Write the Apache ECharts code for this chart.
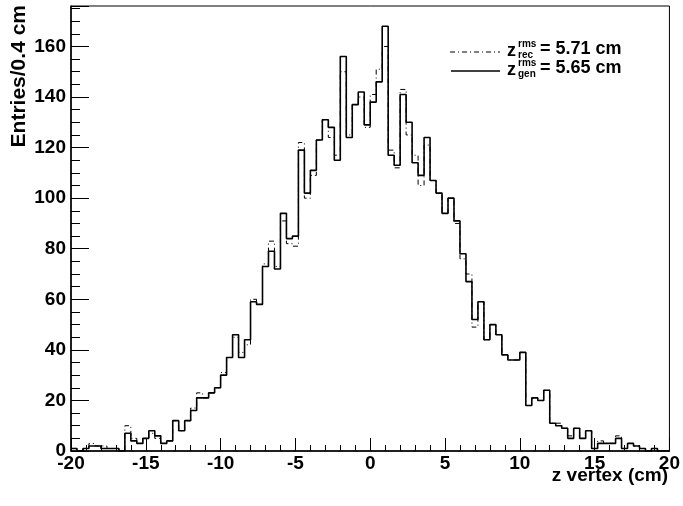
<!DOCTYPE html>
<html>
<head>
<meta charset="utf-8">
<script src="https://cdn.jsdelivr.net/npm/echarts@6/dist/echarts.min.js"></script>
<style>
  html, body { margin: 0; padding: 0; background: #fff; }
  #chart { width: 683px; height: 506px; }
</style>
</head>
<body>
<div id="chart"></div>
<script>
// histogram binning: 100 bins of 0.4 cm from -20 to 20
var zMin = -20;
var binWidth = 0.4;

// generated vertex (solid)
var genCounts = [
  1, 0, 1, 2, 2, 1, 1, 1, 0, 7,
  4, 3, 5, 8, 6, 3, 4, 12, 8, 12,
  16, 21, 21, 23, 25, 30, 37, 46, 37, 44,
  59, 58, 73, 79, 72, 94, 84, 85, 119, 102,
  111, 123, 131, 128, 115, 156, 124, 137, 142, 129,
  138, 146, 168, 117, 113, 141, 130, 114, 109, 124,
  107, 102, 94, 100, 91, 78, 67, 52, 59, 44,
  50, 46, 38, 36, 36, 39, 18, 21, 20, 24,
  11, 10, 9, 5, 9, 5, 8, 1, 3, 3,
  3, 5, 1, 3, 2, 1, 0, 1, 0, 0
];

// reconstructed vertex (dash-dot)
var recCounts = [
  1, 0, 1, 3, 2, 2, 1, 1, 0, 10,
  5, 3, 5, 7, 5, 3, 4, 12, 8, 12,
  17, 23, 21, 23, 25, 31, 37, 45, 39, 42,
  60, 58, 74, 83, 73, 91, 82, 81, 122, 100,
  109, 123, 131, 124, 117, 150, 125, 137, 140, 128,
  141, 151, 160, 119, 112, 143, 125, 117, 105, 121,
  107, 102, 94, 100, 90, 76, 70, 49, 59, 44,
  50, 46, 38, 36, 36, 39, 18, 21, 20, 24,
  11, 11, 9, 6, 9, 5, 8, 1, 4, 3,
  3, 6, 1, 3, 2, 1, 0, 1, 0, 0
];

var xTicks = [-20, -15, -10, -5, 0, 5, 10, 15, 20];
var yTicks = [0, 20, 40, 60, 80, 100, 120, 140, 160];

var legendRows = [
  { sub: 'rec', value: '= 5.71 cm' },
  { sub: 'gen', value: '= 5.65 cm' }
];

function toSteps(counts) {
  var pts = counts.map(function (c, i) {
    return [+(zMin + i * binWidth).toFixed(2), c];
  });
  pts.push([+(zMin + counts.length * binWidth).toFixed(2), counts[counts.length - 1]]);
  return pts;
}

var font = 'Liberation Sans, Arial, sans-serif';

function legendText(row, y) {
  return [
    { type: 'text', left: 507, top: y - 9, style: { text: 'z', font: 'bold 18px ' + font, fill: '#000' } },
    { type: 'text', left: 518, top: y - 12, style: { text: 'rms', font: 'bold 10px ' + font, fill: '#000' } },
    { type: 'text', left: 518, top: y - 1, style: { text: row.sub, font: 'bold 10px ' + font, fill: '#000' } },
    { type: 'text', left: 540, top: y - 11, style: { text: row.value, font: 'bold 18px ' + font, fill: '#000' } }
  ];
}

var chart = echarts.init(document.getElementById('chart'));
chart.setOption({
  animation: false,
  backgroundColor: '#fff',
  grid: {
    left: 71, right: 13, top: 6, bottom: 55,
    show: true, borderColor: '#000', borderWidth: 1
  },
  xAxis: {
    type: 'value',
    min: xTicks[0],
    max: xTicks[xTicks.length - 1],
    interval: 5,
    axisLine: { onZero: false, lineStyle: { color: '#000', width: 1.5 } },
    axisTick: { show: true, inside: true, length: 13, lineStyle: { color: '#000' } },
    minorTick: { show: true, splitNumber: 5, length: 6, lineStyle: { color: '#000' } },
    splitLine: { show: false },
    axisLabel: { color: '#000', fontFamily: font, fontWeight: 'bold', fontSize: 19, margin: 3 }
  },
  yAxis: {
    type: 'value',
    min: 0,
    max: 176,
    interval: 20,
    axisLine: { show: true, onZero: false, lineStyle: { color: '#000', width: 1.5 } },
    axisTick: { show: true, inside: true, length: 18, lineStyle: { color: '#000' } },
    minorTick: { show: true, splitNumber: 4, length: 9, lineStyle: { color: '#000' } },
    splitLine: { show: false },
    axisLabel: {
      color: '#000', fontFamily: font, fontWeight: 'bold', fontSize: 19, margin: 5,
      showMaxLabel: false,
      formatter: function (v) { return yTicks.indexOf(v) >= 0 ? String(v) : ''; }
    }
  },
  series: [
    {
      name: 'rec',
      type: 'line',
      step: 'end',
      symbol: 'none',
      data: toSteps(recCounts),
      lineStyle: { color: '#000', width: 1, type: [5, 3, 1, 3] },
      z: 2
    },
    {
      name: 'gen',
      type: 'line',
      step: 'end',
      symbol: 'none',
      data: toSteps(genCounts),
      lineStyle: { color: '#000', width: 1.6 },
      z: 3
    }
  ],
  graphic: [
    {
      type: 'text', x: 19, y: 5, rotation: Math.PI / 2,
      style: { text: 'Entries/0.4 cm', font: 'bold 21px ' + font, fill: '#000', align: 'right', verticalAlign: 'middle' }
    },
    {
      type: 'text', x: 668, y: 476,
      style: { text: 'z vertex (cm)', font: 'bold 19px ' + font, fill: '#000', align: 'right', verticalAlign: 'middle' }
    },
    { type: 'line', shape: { x1: 450, y1: 52, x2: 500, y2: 52 }, style: { stroke: '#000', lineWidth: 1, lineDash: [5, 3, 1, 3] } },
    { type: 'line', shape: { x1: 451, y1: 71, x2: 500, y2: 71 }, style: { stroke: '#000', lineWidth: 1.4 } }
  ].concat(legendText(legendRows[0], 51), legendText(legendRows[1], 70))
});
</script>
</body>
</html>
